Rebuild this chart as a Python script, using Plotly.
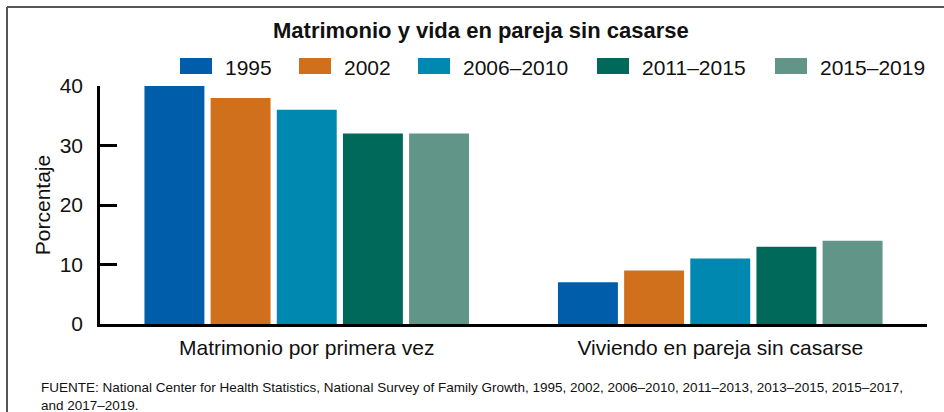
import plotly.graph_objects as go

categories = ["Matrimonio por primera vez", "Viviendo en pareja sin casarse"]
series_names = ["1995", "2002", "2006–2010", "2011–2015", "2015–2019"]
values_1995 = [40, 7]
values_2002 = [38, 9]
values_2006_2010 = [36, 11]
values_2011_2015 = [32, 13]
values_2015_2019 = [32, 14]
series_values = [values_1995, values_2002, values_2006_2010, values_2011_2015, values_2015_2019]
colors = ["#005DAA", "#D0701D", "#0088B0", "#00695A", "#609587"]
y_ticks = [0, 10, 20, 30, 40]

title_text = "Matrimonio y vida en pareja sin casarse"
y_title = "Porcentaje"
source_text = ("FUENTE: National Center for Health Statistics, National Survey of Family Growth, "
               "1995, 2002, 2006–2010, 2011–2013, 2013–2015, 2015–2017,<br>and 2017–2019.")

W, H = 944, 412
ML, MR, MT, MB = 100, 17, 86, 88
PW = W - ML - MR
PH = H - MT - MB
FONT = "Arial, Liberation Sans, sans-serif"


def px_x(p):
    return (p - ML) / PW


def px_y(p):
    return (H - MB - p) / PH


fig = go.Figure()
for name, vals, col in zip(series_names, series_values, colors):
    fig.add_trace(go.Bar(name=name, x=categories, y=vals, marker=dict(color=col, line=dict(width=0)),
                         showlegend=False))

shapes = []
annotations = []

# frame (left and top borders)
shapes.append(dict(type="line", xref="paper", yref="paper", x0=px_x(7), x1=px_x(W + 20),
                   y0=px_y(7), y1=px_y(7), line=dict(color="#555555", width=2)))
shapes.append(dict(type="line", xref="paper", yref="paper", x0=px_x(7), x1=px_x(7),
                   y0=px_y(7), y1=px_y(H + 20), line=dict(color="#555555", width=2)))

# custom legend
legend_x = [180, 299, 418, 597, 775]
for lx, name, col in zip(legend_x, series_names, colors):
    shapes.append(dict(type="rect", xref="paper", yref="paper", x0=px_x(lx), x1=px_x(lx + 32),
                       y0=px_y(74), y1=px_y(58), fillcolor=col, line=dict(width=0)))
    annotations.append(dict(text=name, xref="paper", yref="paper", x=px_x(lx + 43), y=px_y(67),
                            xanchor="left", yanchor="middle", showarrow=False,
                            font=dict(family=FONT, size=21, color="#111111")))

# title
annotations.append(dict(text="<b>" + title_text + "</b>", xref="paper", yref="paper",
                        x=px_x(481), y=px_y(31), xanchor="center", yanchor="middle", showarrow=False,
                        font=dict(family=FONT, size=22, color="#111111")))

# source
annotations.append(dict(text=source_text, xref="paper", yref="paper", x=px_x(39), y=px_y(378),
                        xanchor="left", yanchor="top", align="left", showarrow=False,
                        font=dict(family=FONT, size=13.5, color="#111111")))

fig.update_layout(
    width=W, height=H,
    margin=dict(l=ML, r=MR, t=MT, b=MB, pad=0),
    paper_bgcolor="white", plot_bgcolor="white",
    barmode="group", bargap=0.2, bargroupgap=0.094,
    shapes=shapes, annotations=annotations,
    font=dict(family=FONT, size=21, color="#111111"),
    showlegend=False,
)
fig.update_yaxes(range=[0, 40], tickvals=y_ticks, showgrid=False, zeroline=False,
                 showline=True, linecolor="black", linewidth=2.5,
                 ticks="inside", ticklen=17, tickwidth=2.5, tickcolor="black",
                 ticklabelstandoff=10,
                 title=dict(text=y_title, standoff=4, font=dict(size=21)),
                 tickfont=dict(size=21))
fig.update_xaxes(range=[-0.5, 1.5], showgrid=False, zeroline=False,
                 showline=True, linecolor="black", linewidth=3,
                 ticks="", tickfont=dict(size=21), ticklabelstandoff=3)

fig.write_html("out.html", config={"displayModeBar": False},
               post_script="document.body.style.margin='0';document.body.style.overflow='hidden';")
